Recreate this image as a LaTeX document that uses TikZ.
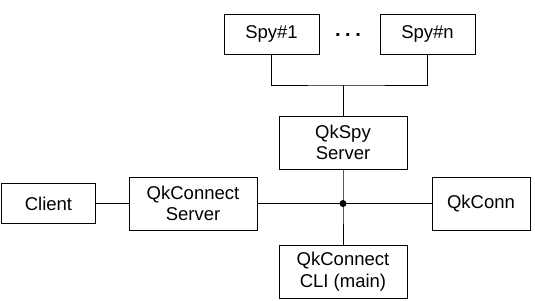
\documentclass[tikz,border=0pt]{standalone}
\usepackage{fontspec}
\setmainfont{Liberation Sans}

\tikzset{
  block/.style={draw, line width=0.9pt, align=center, inner sep=0pt,
    minimum width=128pt, minimum height=53pt,
    font=\fontsize{18.5}{21.5}\selectfont},
  small block/.style={block, minimum width=95pt, minimum height=40pt},
  wire/.style={line width=0.9pt}
}

\begin{document}
\begin{tikzpicture}[x=1pt, y=-1pt]
    \useasboundingbox (0,0) rectangle (535,300);

    % Spies on top
    \node[small block] (spyA) at (271.5,34) {Spy\#1};
    \node[small block] (spyN) at (427.5,34) {Spy\#n};
    \node[anchor=base, inner sep=0pt, font=\fontsize{20}{21}\selectfont\bfseries]
      (dots) at (348,36.5) {.\hspace{4.5pt}.\hspace{4.5pt}.};

    % Servers and clients
    \node[block] (spyserver) at (343,142.5) {QkSpy\\Server};
    \node[small block, minimum width=94pt] (client) at (48.5,203.5) {Client};
    \node[block] (connserver) at (193,203.5) {QkConnect\\Server};
    \node[block, minimum width=98pt] (conn) at (481,203.5) {QkConn};
    \node[block] (cli) at (343,271.5) {QkConnect\\CLI (main)};

    \coordinate (spybus) at (343,85);
    \coordinate (hub) at (343,203.5);

    % Wires
    \draw[wire] (spyA.south) |- (spybus) -| (spyN.south);
    \draw[wire] (spybus) -- (spyserver.north);
    \draw[wire] (client) -- (connserver);
    \draw[wire] (connserver) -- (hub) -- (conn);
    \draw[wire] (spyserver) -- (hub) -- (cli);
    \fill (hub) circle (3.5);
\end{tikzpicture}
\end{document}
